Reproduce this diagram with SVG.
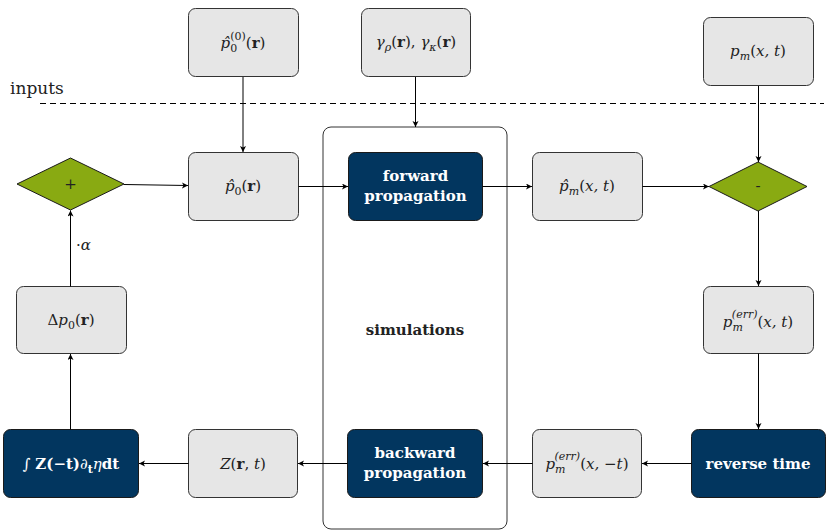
<svg xmlns="http://www.w3.org/2000/svg" width="826" height="531" viewBox="0 0 826 531">
<defs>
<marker id="ah" markerUnits="userSpaceOnUse" markerWidth="8" markerHeight="8" refX="6" refY="3" orient="auto">
<path d="M0,0 L6,3 L0,6 L1.5,3 Z" fill="#000"/>
</marker>
<style>
.box{fill:#e6e6e6;stroke:#333;stroke-width:1}
.dark{fill:#02365f;stroke:#1a1a1a;stroke-width:1}
.dia{fill:#89aa12;stroke:#1a1a1a;stroke-width:1}
text{font-family:"DejaVu Serif",serif}
.t{font-size:15px;fill:#222;text-anchor:middle}
.w{fill:#fff;font-weight:bold}
.i{font-style:italic}
.b{font-weight:bold}
.s{font-size:11px}
.c line{stroke:#000;stroke-width:1;fill:none;marker-end:url(#ah)}
</style>
</defs>
<rect width="826" height="531" fill="#fff"/>
<text x="10" y="94" font-size="17" fill="#222">inputs</text>
<line x1="40" y1="103.5" x2="824" y2="103.5" stroke="#000" stroke-width="1" stroke-dasharray="6,4"/>
<g id="sim"><rect x="323" y="127" width="184" height="402" rx="8" fill="none" stroke="#333" stroke-width="1"/>
<text class="t b" x="415" y="335">simulations</text></g>
<g id="p00"><rect class="box" x="188.5" y="8.5" width="110" height="68" rx="7"/>
<text class="t" x="243" y="48"><tspan class="i">p̂</tspan><tspan class="s" dy="4">0</tspan><tspan class="s" dx="-7" dy="-12">(0)</tspan><tspan dy="8">(</tspan><tspan class="b">r</tspan>)</text></g>
<g id="gam"><rect class="box" x="361.5" y="8.5" width="109" height="68" rx="7"/>
<text class="t" x="416" y="47"><tspan class="i">γ</tspan><tspan class="s i" dy="4">ρ</tspan><tspan dy="-4">(</tspan><tspan class="b">r</tspan>), <tspan class="i">γ</tspan><tspan class="s i" dy="4">κ</tspan><tspan dy="-4">(</tspan><tspan class="b">r</tspan>)</text></g>
<g id="pm"><rect class="box" x="703.5" y="17.5" width="110" height="68" rx="7"/>
<text class="t" x="758" y="56"><tspan class="i">p</tspan><tspan class="s i" dy="4">m</tspan><tspan dy="-4">(</tspan><tspan class="i">x, t</tspan>)</text></g>
<g id="plus"><polygon class="dia" points="17,184 70.5,158 124,184 70.5,210"/>
<text class="t" x="70.5" y="189">+</text></g>
<g id="p0"><rect class="box" x="188.5" y="152.5" width="110" height="68" rx="7"/>
<text class="t" x="243" y="191"><tspan class="i">p̂</tspan><tspan class="s" dy="4">0</tspan><tspan dy="-4">(</tspan><tspan class="b">r</tspan>)</text></g>
<g id="fwd"><rect class="dark" x="348.5" y="152.5" width="134" height="68" rx="7"/>
<text class="t w" x="415.5" y="181" font-size="16">forward</text><text class="t w" x="415.5" y="201" font-size="16">propagation</text></g>
<g id="pmh"><rect class="box" x="532.5" y="152.5" width="110" height="68" rx="7"/>
<text class="t" x="587" y="191"><tspan class="i">p̂</tspan><tspan class="s i" dy="4">m</tspan><tspan dy="-4">(</tspan><tspan class="i">x, t</tspan>)</text></g>
<g id="minus"><polygon class="dia" points="709,186.5 758,162 807,186.5 758,211"/>
<text class="t" x="758" y="191">-</text></g>
<g id="dp0"><rect class="box" x="16.5" y="286.5" width="110" height="67" rx="7"/>
<text class="t" x="71" y="325">Δ<tspan class="i">p</tspan><tspan class="s" dy="4">0</tspan><tspan dy="-4">(</tspan><tspan class="b">r</tspan>)</text></g>
<g id="perr"><rect class="box" x="703.5" y="286.5" width="110" height="67" rx="7"/>
<text class="t" x="758" y="327"><tspan class="i">p</tspan><tspan class="s i" dy="4">m</tspan><tspan class="s i" dx="-11" dy="-13">(err)</tspan><tspan dy="9">(</tspan><tspan class="i">x, t</tspan>)</text></g>
<g id="integ"><rect class="dark" x="3.5" y="429.5" width="135" height="68" rx="7"/>
<text class="t" x="71" y="469" font-size="16" style="fill:#fff">∫ <tspan class="b">Z(−t)</tspan><tspan class="i">∂</tspan><tspan class="s b" dy="4">t</tspan><tspan class="i" dy="-4">η</tspan><tspan class="b">dt</tspan></text></g>
<g id="z"><rect class="box" x="188.5" y="429.5" width="109" height="68" rx="7"/>
<text class="t" x="243" y="469"><tspan class="i">Z</tspan>(<tspan class="b">r</tspan>, <tspan class="i">t</tspan>)</text></g>
<g id="bwd"><rect class="dark" x="347.5" y="429.5" width="135" height="68" rx="7"/>
<text class="t w" x="415" y="458" font-size="16">backward</text><text class="t w" x="415" y="478" font-size="16">propagation</text></g>
<g id="perrm"><rect class="box" x="532.5" y="429.5" width="109" height="68" rx="7"/>
<text class="t" x="587" y="469"><tspan class="i">p</tspan><tspan class="s i" dy="4">m</tspan><tspan class="s i" dx="-11" dy="-13">(err)</tspan><tspan dy="9">(</tspan><tspan class="i">x, </tspan>−<tspan class="i">t</tspan>)</text></g>
<g id="rev"><rect class="dark" x="691.5" y="429.5" width="134" height="68" rx="7"/>
<text class="t w" x="758" y="469" font-size="16">reverse time</text></g>
<g id="connectors" class="c">
<line x1="243" y1="77" x2="243" y2="152"/>
<line x1="415.5" y1="77" x2="415.5" y2="127"/>
<line x1="758.5" y1="86" x2="758.5" y2="162"/>
<line x1="124" y1="184.5" x2="188" y2="185.5"/>
<line x1="298.5" y1="186.5" x2="348" y2="186.5"/>
<line x1="482.5" y1="186.5" x2="532" y2="186.5"/>
<line x1="642.5" y1="186.5" x2="709" y2="186.5"/>
<line x1="758.5" y1="211" x2="758.5" y2="286"/>
<line x1="758.5" y1="353.5" x2="758.5" y2="429"/>
<line x1="691.5" y1="463.5" x2="642" y2="463.5"/>
<line x1="532.5" y1="463.5" x2="483" y2="463.5"/>
<line x1="347.5" y1="463.5" x2="298" y2="463.5"/>
<line x1="188.5" y1="463.5" x2="139" y2="463.5"/>
<line x1="70.5" y1="429.5" x2="70.5" y2="354"/>
<line x1="70.5" y1="286.5" x2="70.5" y2="210.5"/>
</g>
<text x="76" y="250" font-size="15" fill="#222">·<tspan font-style="italic">α</tspan></text>
</svg>
